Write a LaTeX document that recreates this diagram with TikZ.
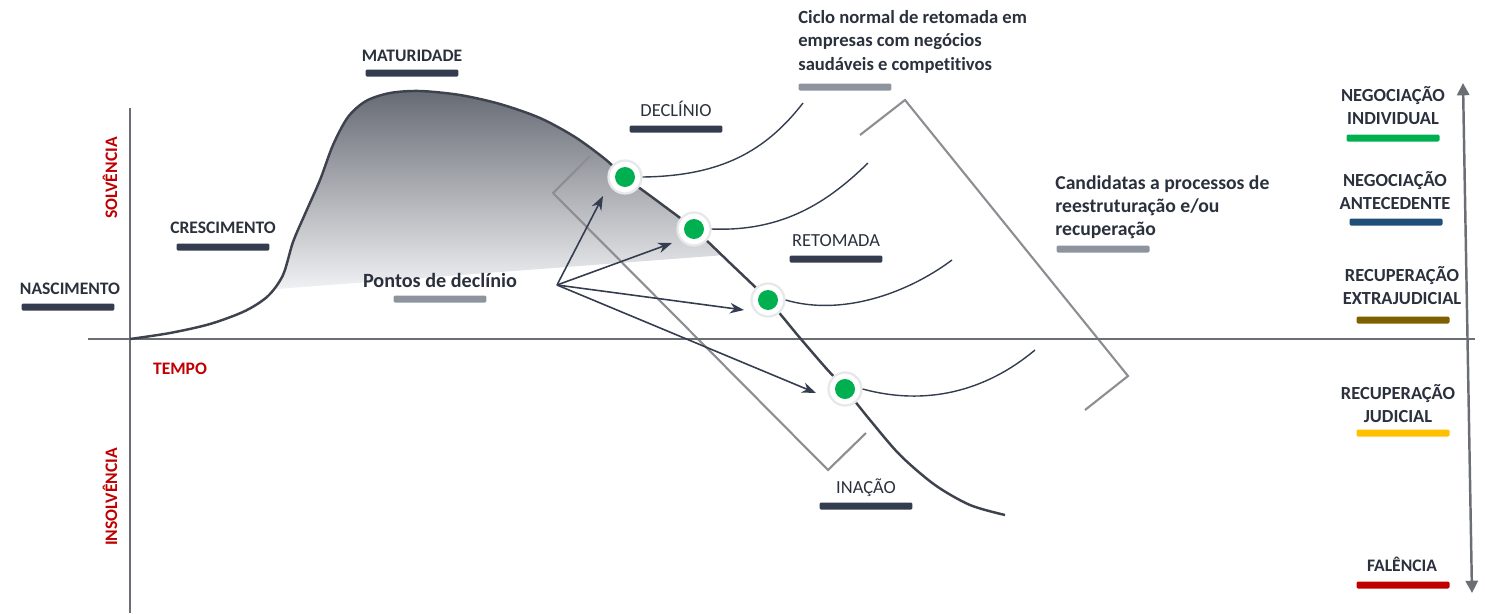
\documentclass[tikz,border=0pt]{standalone}
\usepackage{fontspec}
\setmainfont{Carlito}[Ligatures=NoCommon]
\usetikzlibrary{arrows.meta}
\definecolor{navy}{HTML}{333D4F}
\definecolor{txt}{HTML}{2B313C}
\definecolor{axisgray}{HTML}{6B6E73}
\definecolor{brk}{HTML}{8C8E92}
\definecolor{barg}{HTML}{8E949E}
\definecolor{redt}{HTML}{C00000}
\definecolor{gdot}{HTML}{00B050}
\definecolor{bblue}{HTML}{1F4E79}
\definecolor{bbrown}{HTML}{7F6000}
\definecolor{byellow}{HTML}{FFC000}
\definecolor{bred}{HTML}{C00000}
\definecolor{curvec}{HTML}{3D424D}
\definecolor{shadetop}{HTML}{666A73}
\definecolor{shadebot}{HTML}{F2F3F5}
\begin{document}
\begin{tikzpicture}[x=0.02cm,y=-0.02cm,
  lbl/.style={font=\fontsize{10}{13}\selectfont\bfseries, text=txt, inner sep=0pt},
  lblr/.style={font=\fontsize{10.5}{13}\selectfont, text=txt, inner sep=0pt},
  redlbl/.style={font=\fontsize{10}{12}\selectfont\bfseries, text=redt, inner sep=0pt},
  para/.style={font=\fontsize{10.6}{13.4}\selectfont\bfseries, text=txt, inner sep=0pt, align=left, anchor=north west},
  rlbl/.style={font=\fontsize{10.5}{13}\selectfont\bfseries, text=txt, inner sep=0pt, align=center, anchor=north},
  bar/.style={minimum width=1.86cm, minimum height=0.14cm, inner sep=0pt, rounded corners=0.8pt, draw=none, fill=#1},
  bracket/.style={draw=brk, line width=1.2pt},
  axis/.style={draw=axisgray, line width=1.4pt},
  fanarrow/.style={draw=navy, line width=0.9pt, -{Stealth[length=8pt,width=6pt]}},
  retcurve/.style={draw=navy, line width=0.8pt},
  halo/.style={circle, fill=white, draw=black!9, line width=1.3pt, minimum size=0.66cm, inner sep=0pt},
  gdotst/.style={circle, fill=gdot, minimum size=0.4cm, inner sep=0pt},
]
\useasboundingbox (0,0) rectangle (1485,613);

% shaded area under the curve
\begin{scope}
\clip plot[smooth,tension=0.5] coordinates {(130,339) (170,333) (210,324) (245,311) (268,296) (283,275) (293,242) (305,214) (320,180) (333,145) (348,117) (366,101) (390,93) (420,91) (460,95) (500,104) (540,118) (575,137) (605,159) (625,177) (660,203) (694,229) (730,263) (768,300) (800,338) (825,367) (845,389) (870,420) (900,455) (935,485) (970,505) (1005,515)} -- (1005,600) -- (130,600) -- cycle;
\clip (250,80) -- (250,291) -- (725,255) -- (725,80) -- cycle;
\shade[top color=shadetop, bottom color=shadebot] (250,90) rectangle (725,292);
\end{scope}

% brackets
\draw[bracket] (590,156) -- (553,193) -- (828,470) -- (866,433);
\draw[bracket] (860,135) -- (905,100) -- (1128,376) -- (1085,410);

% axes
\coordinate (axl) at (88,339);
\coordinate (axr) at (1475,339);
\coordinate (axt) at (130,108);
\coordinate (axb) at (130,613);
\draw[axis] (axl) -- (axr);
\draw[axis] (axt) -- (axb);

% right double arrow
\coordinate (rtop) at (1463,83);
\coordinate (rbot) at (1472,593);
\draw[draw=axisgray, line width=1.4pt, {Triangle[length=7pt,width=7pt]}-{Triangle[length=7pt,width=7pt]}] (rtop) -- (rbot);

% main life curve
\draw[curvec, line width=1.4pt] plot[smooth,tension=0.5] coordinates {(130,339) (170,333) (210,324) (245,311) (268,296) (283,275) (293,242) (305,214) (320,180) (333,145) (348,117) (366,101) (390,93) (420,91) (460,95) (500,104) (540,118) (575,137) (605,159) (625,177) (660,203) (694,229) (730,263) (768,300) (800,338) (825,367) (845,389) (870,420) (900,455) (935,485) (970,505) (1005,515)};

% decline points
\node[halo] (d1) at (625,177) {};
\node[halo] (d2) at (694,229) {};
\node[halo] (d3) at (768,300) {};
\node[halo] (d4) at (845,389) {};
\node[gdotst] (g1) at (d1) {};
\node[gdotst] (g2) at (d2) {};
\node[gdotst] (g3) at (d3) {};
\node[gdotst] (g4) at (d4) {};

% fan arrows
\coordinate (fan) at (557,285);
\coordinate (t1) at (603,196);
\coordinate (t2) at (672,243);
\coordinate (t3) at (744,310);
\coordinate (t4) at (816,393);
\draw[fanarrow] (fan) -- (t1);
\draw[fanarrow] (fan) -- (t2);
\draw[fanarrow] (fan) -- (t3);
\draw[fanarrow] (fan) -- (t4);

% recovery curves
\coordinate (r1) at (803,103);
\coordinate (r2) at (868,163);
\coordinate (r3) at (952,260);
\coordinate (r4) at (1035,350);
\draw[retcurve] (d1.east) .. controls (720,176) and (765,152) .. (r1);
\draw[retcurve] (d2.east) .. controls (785,232) and (830,200) .. (r2);
\draw[retcurve] (d3.east) .. controls (840,316) and (905,295) .. (r3);
\draw[retcurve] (d4.east) .. controls (925,406) and (985,392) .. (r4);

% phase labels
\node[lbl, anchor=base] (nasc) at (70,294) {NASCIMENTO};
\node[bar=navy] (bnasc) at (68,307) {};
\node[lbl, anchor=base] (cresc) at (223,233) {CRESCIMENTO};
\node[bar=navy] (bcresc) at (223,247) {};
\node[lbl, anchor=base] (mat) at (412,61) {MATURIDADE};
\node[bar=navy] (bmat) at (412,73) {};
\node[lblr, anchor=base] (decl) at (676,116) {DECLÍNIO};
\node[bar=navy] (bdecl) at (676,129) {};
\node[lblr, anchor=base] (ret) at (836,246) {RETOMADA};
\node[bar=navy] (bret) at (836,259) {};
\node[lblr, anchor=base] (inac) at (866,493) {INAÇÃO};
\node[bar=navy] (binac) at (866,506) {};

\node[font=\fontsize{11.5}{14}\selectfont\bfseries, text=txt, inner sep=0pt, anchor=base] (pontos) at (440,287) {Pontos de declínio};
\node[bar=barg] (bpontos) at (440,299) {};

\node[para] (ciclo) at (798,10) {Ciclo normal de retomada em\\empresas com negócios\\saudáveis e competitivos};
\node[bar=barg] (bciclo) at (845,87) {};
\node[para, font=\fontsize{11.2}{13.2}\selectfont\bfseries] (cand) at (1055,175) {Candidatas a processos de\\reestruturação e/ou\\recuperação};
\node[bar=barg] (bcand) at (1103,249) {};

% axis labels
\node[redlbl, rotate=90] (solv) at (110,178) {SOLVÊNCIA};
\node[redlbl, rotate=90] (insolv) at (110,497) {INSOLVÊNCIA};
\node[redlbl, anchor=base] (tempo) at (180,374) {TEMPO};

% right-hand scale
\node[rlbl] (negind) at (1393,86) {NEGOCIAÇÃO\\INDIVIDUAL};
\node[bar=gdot] (bnegind) at (1393,138) {};
\node[rlbl] (negant) at (1395,171) {NEGOCIAÇÃO\\ANTECEDENTE};
\node[bar=bblue] (bnegant) at (1396,222) {};
\node[rlbl] (recext) at (1402,266) {RECUPERAÇÃO\\EXTRAJUDICIAL};
\node[bar=bbrown] (brecext) at (1403,320) {};
\node[rlbl] (recjud) at (1398,384) {RECUPERAÇÃO\\JUDICIAL};
\node[bar=byellow] (brecjud) at (1403,433) {};
\node[lbl, anchor=base] (fal) at (1402,571) {FALÊNCIA};
\node[bar=bred] (bfal) at (1403,585) {};
\end{tikzpicture}
\end{document}
